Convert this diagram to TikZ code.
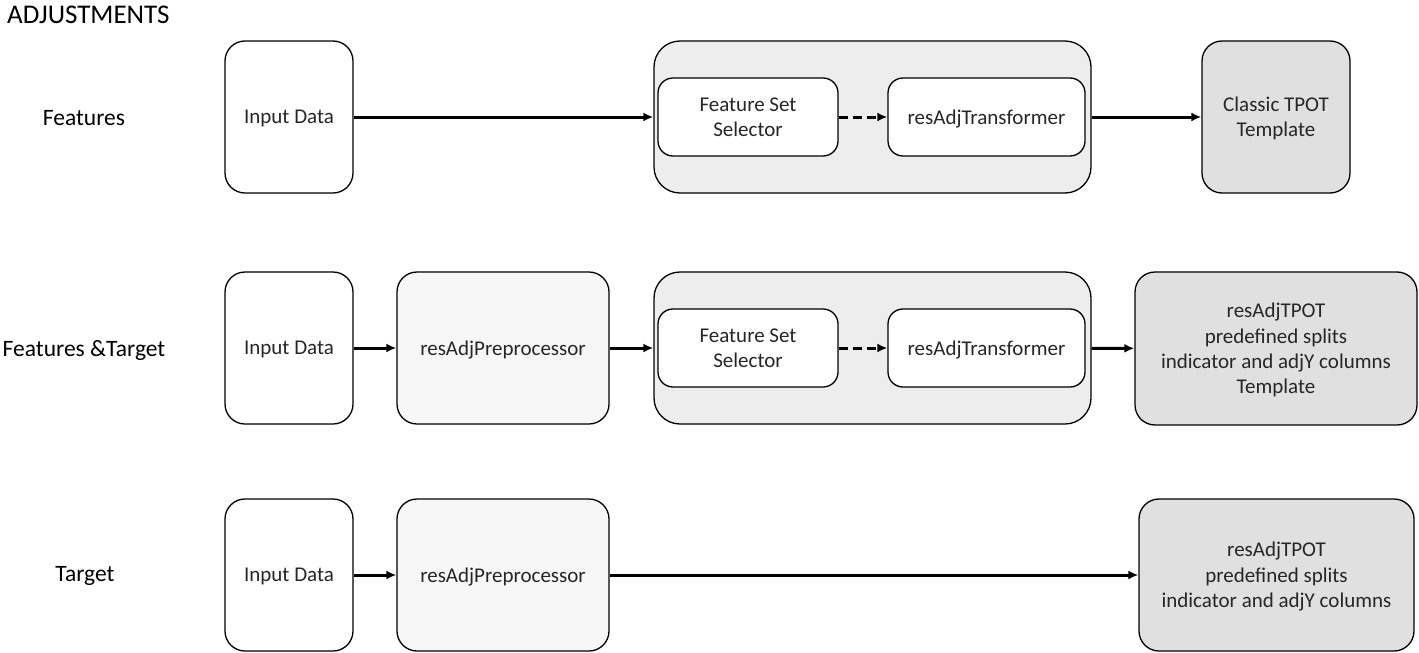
\documentclass[tikz,border=0pt]{standalone}
\usepackage{fontspec}
\setmainfont{Carlito}
\usetikzlibrary{arrows.meta}
\definecolor{txt}{HTML}{262626}
\definecolor{grpfill}{HTML}{EDEDED}
\definecolor{prefill}{HTML}{F7F7F7}
\definecolor{tplfill}{HTML}{E0E0E0}
\tikzset{
  box/.style={draw=black, line width=1.3pt, rounded corners=20pt, fill=white,
    align=center, text=txt, font=\fontsize{21}{25.3}\selectfont, inner sep=0pt},
  one/.style={text depth=0pt},
  inner/.style={box, rounded corners=15pt},
  grp/.style={box, rounded corners=26pt, fill=grpfill},
  pre/.style={box, fill=prefill},
  tpl/.style={box, fill=tplfill, text depth=0pt},
  lbl/.style={text=black, font=\fontsize{23.5}{28}\selectfont, inner sep=0pt},
  conn/.style={line width=3pt, -{Latex[length=10pt,width=9pt]}},
  dconn/.style={conn, dash pattern=on 9pt off 5pt},
}
\begin{document}
\begin{tikzpicture}[x=1pt,y=-1pt]
\useasboundingbox (0,0) rectangle (1419,653);
\node[lbl, anchor=west, font=\fontsize{27}{32}\selectfont] (title) at (7,15) {ADJUSTMENTS};
\node[lbl] (l1) at (84,118) {Features};
\node[lbl] (l2) at (84,350) {Features \&Target};
\node[lbl] (l3) at (85,576) {Target};

% Row 1
\node[box, one, minimum width=128pt, minimum height=152pt] (in1) at (289,117) {Input Data};
\node[grp, minimum width=437pt, minimum height=152pt] (g1) at (872.5,117) {};
\node[inner, minimum width=180pt, minimum height=78pt] (fs1) at (748,117) {Feature Set\\Selector};
\node[inner, one, minimum width=197pt, minimum height=78pt] (rt1) at (986.5,117) {resAdjTransformer};
\node[tpl, minimum width=148pt, minimum height=152pt] (t1) at (1276,117) {Classic TPOT\\Template};
\draw[conn] (in1) -- (g1);
\draw[dconn] (fs1) -- (rt1);
\draw[conn] (g1) -- (t1);

% Row 2
\node[box, one, minimum width=128pt, minimum height=152pt] (in2) at (289,348) {Input Data};
\node[pre, one, minimum width=212pt, minimum height=152pt] (p2) at (503,348) {resAdjPreprocessor};
\node[grp, minimum width=437pt, minimum height=152pt] (g2) at (872.5,348) {};
\node[inner, minimum width=180pt, minimum height=78pt] (fs2) at (748,348) {Feature Set\\Selector};
\node[inner, one, minimum width=197pt, minimum height=78pt] (rt2) at (986.5,348) {resAdjTransformer};
\node[tpl, minimum width=282pt, minimum height=153pt] (t2) at (1276,348.5) {resAdjTPOT\\predefined splits\\indicator and adjY columns\\Template};
\draw[conn] (in2) -- (p2);
\draw[conn] (p2) -- (g2);
\draw[dconn] (fs2) -- (rt2);
\draw[conn] (g2) -- (t2);

% Row 3
\node[box, one, minimum width=128pt, minimum height=152pt] (in3) at (289,575) {Input Data};
\node[pre, one, minimum width=212pt, minimum height=152pt] (p3) at (503,575) {resAdjPreprocessor};
\node[tpl, minimum width=275pt, minimum height=152pt] (t3) at (1276.5,575) {resAdjTPOT\\predefined splits\\indicator and adjY columns};
\draw[conn] (in3) -- (p3);
\draw[conn] (p3) -- (t3);
\end{tikzpicture}
\end{document}
